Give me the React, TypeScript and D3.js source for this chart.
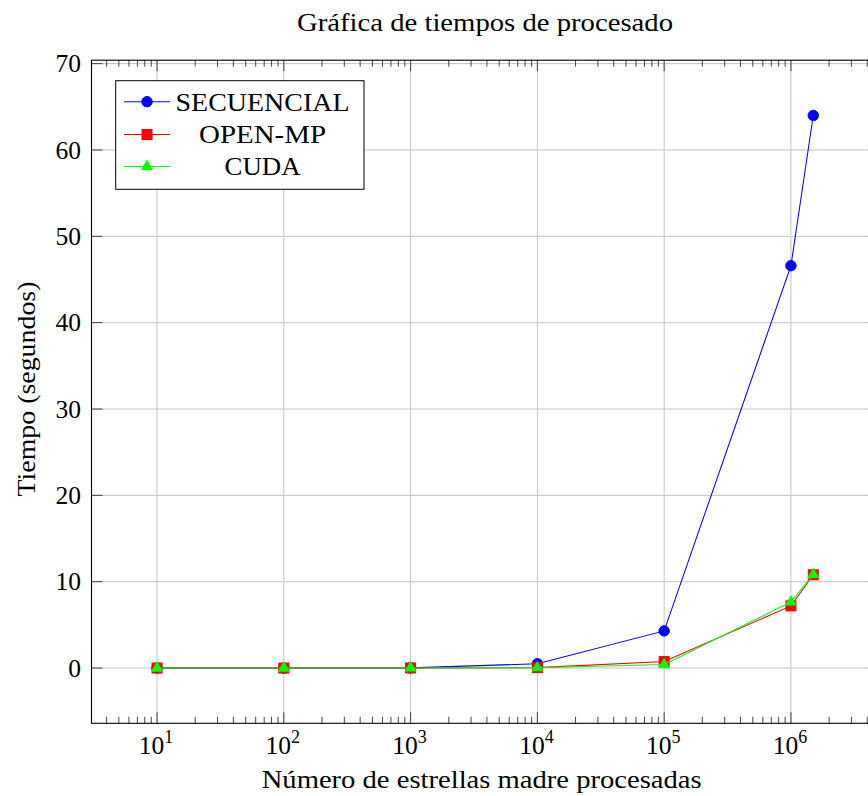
import React from "react";
import * as d3 from "d3";

// Number of parent stars processed and measured run times (seconds)
const stars = [10, 100, 1000, 10000, 100000, 1000000, 1500000];
const secuencial = [0.0, 0.0, 0.02, 0.5, 4.3, 46.6, 64.0];
const openmp = [0.0, 0.0, 0.01, 0.05, 0.75, 7.2, 10.8];
const cuda = [0.0, 0.0, 0.01, 0.04, 0.4, 7.65, 10.85];

const seriesNames = ["SECUENCIAL", "OPEN-MP", "CUDA"];
const seriesColors = ["#0000ff", "#ff0000", "#00ff00"];
const seriesMarks = ["circle", "square", "triangle"];

const yTicks = [0, 10, 20, 30, 40, 50, 60, 70];
const xDecades = [1, 2, 3, 4, 5, 6];

const title = "Gráfica de tiempos de procesado";
const xLabel = "Número de estrellas madre procesadas";
const yLabel = "Tiempo (segundos)";

const W = 868;
const H = 796;
const FONT = "'Liberation Serif', 'DejaVu Serif', serif";

// axis box (pgfplots-style enlarged limits)
const left = 91.5;
const right = 878.8;
const top = 60.2;
const bottom = 723.3;

const x = d3.scaleLog().domain([Math.pow(10, 0.483), Math.pow(10, 6.693)]).range([left, right]);
const y = d3.scaleLinear().domain([-6.4, 70.4]).range([bottom, top]);

function Marker({ kind, cx, cy, color }: { kind: string; cx: number; cy: number; color: string }) {
  if (kind === "circle") return <circle cx={cx} cy={cy} r={5.2} fill={color} stroke={color} strokeWidth={1} />;
  if (kind === "square")
    return <rect x={cx - 5} y={cy - 5} width={10} height={10} fill={color} stroke={color} strokeWidth={1} />;
  const r = 6.2;
  const pts = [
    [cx, cy - r],
    [cx + r * Math.cos(Math.PI / 6), cy + r * 0.5],
    [cx - r * Math.cos(Math.PI / 6), cy + r * 0.5],
  ];
  return <polygon points={pts.map((p) => p.join(",")).join(" ")} fill={color} stroke={color} strokeWidth={1} />;
}

export default function App() {
  const data = [secuencial, openmp, cuda];
  const line = d3
    .line<number>()
    .x((_, i) => x(stars[i]))
    .y((d) => y(d));

  const minorTicks: number[] = [];
  for (let e = 0; e <= 6; e++) {
    for (let k = 2; k <= 9; k++) {
      const v = k * Math.pow(10, e);
      const px = x(v);
      if (px > left && px < right) minorTicks.push(v);
    }
  }

  const legendX = 115.7;
  const legendY = 80.7;
  const legendW = 248.3;
  const legendH = 108.6;
  const rowY = [101.7, 134.5, 166.5];
  const legendTextW = [174, 127, 76];

  return (
    <svg
      width={W}
      height={H}
      style={{ position: "absolute", left: 0, top: 0, background: "#fff" }}
      fontFamily={FONT}
    >
      <rect width={W} height={H} fill="#fff" />
      <defs>
        <clipPath id="plot">
          <rect x={left} y={top} width={right - left} height={bottom - top} />
        </clipPath>
      </defs>

      {/* grid */}
      <g stroke="#c4c4c4" strokeWidth={1}>
        {xDecades.map((d) => (
          <line key={"gx" + d} x1={x(Math.pow(10, d))} x2={x(Math.pow(10, d))} y1={top} y2={bottom} />
        ))}
        {yTicks.map((t) => (
          <line key={"gy" + t} x1={left} x2={right} y1={y(t)} y2={y(t)} />
        ))}
      </g>

      {/* ticks */}
      <g stroke="#333" strokeWidth={0.9}>
        {minorTicks.map((v) => (
          <g key={"mt" + v}>
            <line x1={x(v)} x2={x(v)} y1={bottom} y2={bottom - 6.5} />
            <line x1={x(v)} x2={x(v)} y1={top} y2={top + 6.5} />
          </g>
        ))}
        {xDecades.map((d) => (
          <g key={"xt" + d}>
            <line x1={x(Math.pow(10, d))} x2={x(Math.pow(10, d))} y1={bottom} y2={bottom - 11} />
            <line x1={x(Math.pow(10, d))} x2={x(Math.pow(10, d))} y1={top} y2={top + 11} />
          </g>
        ))}
        {yTicks.map((t) => (
          <g key={"yt" + t}>
            <line x1={left} x2={left + 11} y1={y(t)} y2={y(t)} />
            <line x1={right} x2={right - 11} y1={y(t)} y2={y(t)} />
          </g>
        ))}
      </g>

      {/* series */}
      <g clipPath="url(#plot)">
        {data.map((vals, si) => (
          <g key={seriesNames[si]}>
            <path d={line(vals) || ""} fill="none" stroke={seriesColors[si]} strokeWidth={1.05} />
            {vals.map((v, i) => (
              <Marker key={i} kind={seriesMarks[si]} cx={x(stars[i])} cy={y(v)} color={seriesColors[si]} />
            ))}
          </g>
        ))}
      </g>

      {/* axis box */}
      <rect x={left} y={top} width={right - left} height={bottom - top} fill="none" stroke="#000" strokeWidth={1.1} />

      {/* y tick labels */}
      <g fontSize={25.5} textAnchor="end" fill="#000">
        {yTicks.map((t) => (
          <text key={"yl" + t} x={81} y={y(t)} dy="0.34em">
            {t}
          </text>
        ))}
      </g>

      {/* x tick labels */}
      <g fontSize={25.5} textAnchor="middle" fill="#000">
        {xDecades.map((d) => (
          <text key={"xl" + d} x={x(Math.pow(10, d)) - 1} y={754}>
            10
            <tspan fontSize={18} dy={-11}>
              {d}
            </tspan>
          </text>
        ))}
      </g>

      {/* titles */}
      <text x={485} y={31} fontSize={26} textAnchor="middle" textLength={376} lengthAdjust="spacingAndGlyphs">
        {title}
      </text>
      <text x={481.7} y={788} fontSize={26} textAnchor="middle" textLength={440} lengthAdjust="spacingAndGlyphs">
        {xLabel}
      </text>
      <text
        transform={`translate(35, 389) rotate(-90)`}
        fontSize={26}
        textAnchor="middle"
        textLength={215}
        lengthAdjust="spacingAndGlyphs"
      >
        {yLabel}
      </text>

      {/* legend */}
      <g>
        <rect x={legendX} y={legendY} width={legendW} height={legendH} fill="#fff" stroke="#000" strokeWidth={1} />
        {seriesNames.map((name, i) => (
          <g key={"lg" + name}>
            <line x1={124} x2={170} y1={rowY[i]} y2={rowY[i]} stroke={seriesColors[i]} strokeWidth={1.05} />
            <Marker kind={seriesMarks[i]} cx={147} cy={rowY[i]} color={seriesColors[i]} />
            <text
              x={262.5}
              y={rowY[i]}
              dy="0.34em"
              fontSize={26}
              textAnchor="middle"
              textLength={legendTextW[i]}
              lengthAdjust="spacingAndGlyphs"
            >
              {name}
            </text>
          </g>
        ))}
      </g>
    </svg>
  );
}
